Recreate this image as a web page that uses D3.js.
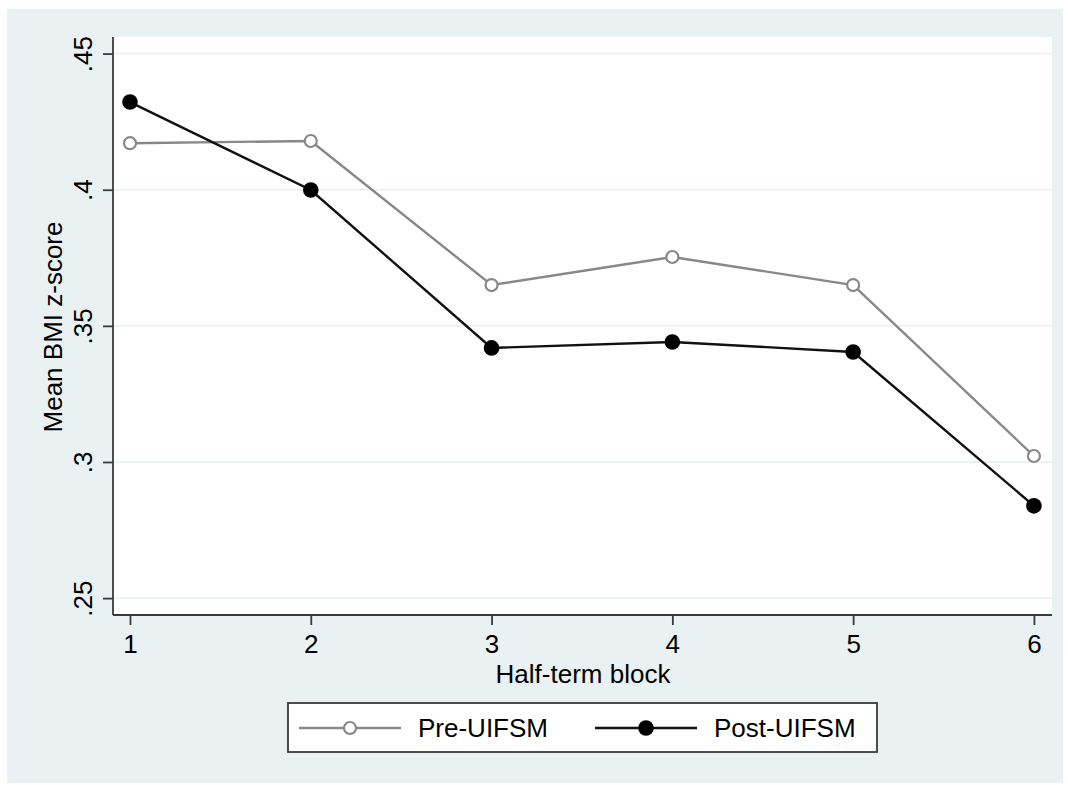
<!DOCTYPE html>
<html>
<head>
<meta charset="utf-8">
<script src="https://cdn.jsdelivr.net/npm/d3@7"></script>
<style>
    body { margin: 0; background: #fff; }
    svg text { font-family: Arial, "Liberation Sans", sans-serif; fill: #000; }
</style>
</head>
<body>
<div id="chart"></div>
<script>
var blocks = [1, 2, 3, 4, 5, 6];
var preValues = [0.4171, 0.4179, 0.3650, 0.3753, 0.3650, 0.3022];
var postValues = [0.4322, 0.3999, 0.3419, 0.3441, 0.3404, 0.2839];
var yTicks = [0.25, 0.3, 0.35, 0.4, 0.45];
var yTickLabels = ['.25', '.3', '.35', '.4', '.45'];
var seriesNames = ['Pre-UIFSM', 'Post-UIFSM'];

var width = 1068;
var height = 785;
var bg = '#e9f1f3';
var fontSize = '26px';
var margin = {left: 113, right: 16, top: 37, bottom: 170};

var svg = d3.select('#chart')
    .append('svg')
    .attr('width', width)
    .attr('height', height);

// outer graph region
svg.append('rect')
    .attr('x', 7).attr('y', 9)
    .attr('width', 1056).attr('height', 774)
    .attr('fill', bg);

var plotW = width - margin.left - margin.right;
var plotH = height - margin.top - margin.bottom;

var x = d3.scaleLinear()
    .domain([0.906, 6.1])
    .range([0, plotW]);

var y = d3.scaleLinear()
    .domain([0.2438, 0.4561])
    .range([plotH, 0]);

var g = svg.append('g').attr('transform', 'translate(' + margin.left + ',' + margin.top + ')');

g.append('rect')
    .attr('width', plotW).attr('height', plotH)
    .attr('fill', '#fff');

// gridlines
g.selectAll('.grid')
    .data(yTicks)
    .enter().append('line')
    .attr('x1', 0).attr('x2', plotW)
    .attr('y1', function (d) { return y(d); })
    .attr('y2', function (d) { return y(d); })
    .attr('stroke', '#e6eff1')
    .attr('stroke-width', 1.5);

// axes
var yAxis = d3.axisLeft(y)
    .tickValues(yTicks)
    .tickFormat(function (d, i) { return yTickLabels[i]; })
    .tickSize(10)
    .tickPadding(6);
var xAxis = d3.axisBottom(x)
    .tickValues(blocks)
    .tickFormat(d3.format('d'))
    .tickSize(10)
    .tickPadding(10);

var yG = g.append('g').call(yAxis);
yG.select('.domain').attr('d', 'M0,0V' + plotH);
yG.selectAll('text')
    .attr('transform', 'rotate(-90)')
    .attr('x', 0)
    .attr('y', -30)
    .attr('dy', '0.35em')
    .attr('text-anchor', 'middle')
    .style('font-size', fontSize);

var xG = g.append('g').attr('transform', 'translate(0,' + plotH + ')').call(xAxis);
xG.select('.domain').attr('d', 'M0,0H' + plotW);
xG.selectAll('text').style('font-size', fontSize);

svg.selectAll('.domain, .tick line')
    .attr('stroke', '#3a3a3a')
    .attr('stroke-width', 1.8);

// titles
svg.append('text')
    .attr('transform', 'translate(62,327) rotate(-90)')
    .attr('text-anchor', 'middle')
    .style('font-size', fontSize)
    .text('Mean BMI z-score');

svg.append('text')
    .attr('x', 583).attr('y', 683)
    .attr('text-anchor', 'middle')
    .style('font-size', fontSize)
    .text('Half-term block');

// series
var line = d3.line()
    .x(function (d, i) { return x(blocks[i]); })
    .y(function (d) { return y(d); });

g.append('path')
    .attr('d', line(preValues))
    .attr('fill', 'none')
    .attr('stroke', '#888')
    .attr('stroke-width', 2.4);

g.append('path')
    .attr('d', line(postValues))
    .attr('fill', 'none')
    .attr('stroke', '#111')
    .attr('stroke-width', 2.4);

g.selectAll('.pre')
    .data(preValues)
    .enter().append('circle')
    .attr('cx', function (d, i) { return x(blocks[i]); })
    .attr('cy', function (d) { return y(d); })
    .attr('r', 6)
    .attr('fill', '#fff')
    .attr('stroke', '#888')
    .attr('stroke-width', 2.2);

g.selectAll('.post')
    .data(postValues)
    .enter().append('circle')
    .attr('cx', function (d, i) { return x(blocks[i]); })
    .attr('cy', function (d) { return y(d); })
    .attr('r', 7.8)
    .attr('fill', '#000');

// legend
var legend = svg.append('g');
legend.append('rect')
    .attr('x', 288).attr('y', 703)
    .attr('width', 589).attr('height', 49)
    .attr('fill', '#fff')
    .attr('stroke', '#3a3a3a')
    .attr('stroke-width', 1.8);

var legendItems = [
    {name: seriesNames[0], x0: 299, color: '#888', hollow: true},
    {name: seriesNames[1], x0: 595, color: '#111', hollow: false}
];
legendItems.forEach(function (it) {
    legend.append('line')
        .attr('x1', it.x0).attr('x2', it.x0 + 102)
        .attr('y1', 728).attr('y2', 728)
        .attr('stroke', it.color)
        .attr('stroke-width', 2.4);
    legend.append('circle')
        .attr('cx', it.x0 + 51).attr('cy', 728)
        .attr('r', it.hollow ? 6 : 7.8)
        .attr('fill', it.hollow ? '#fff' : '#000')
        .attr('stroke', it.hollow ? it.color : 'none')
        .attr('stroke-width', 2.2);
    legend.append('text')
        .attr('x', it.x0 + 119).attr('y', 737)
        .style('font-size', fontSize)
        .text(it.name);
});
</script>
</body>
</html>
